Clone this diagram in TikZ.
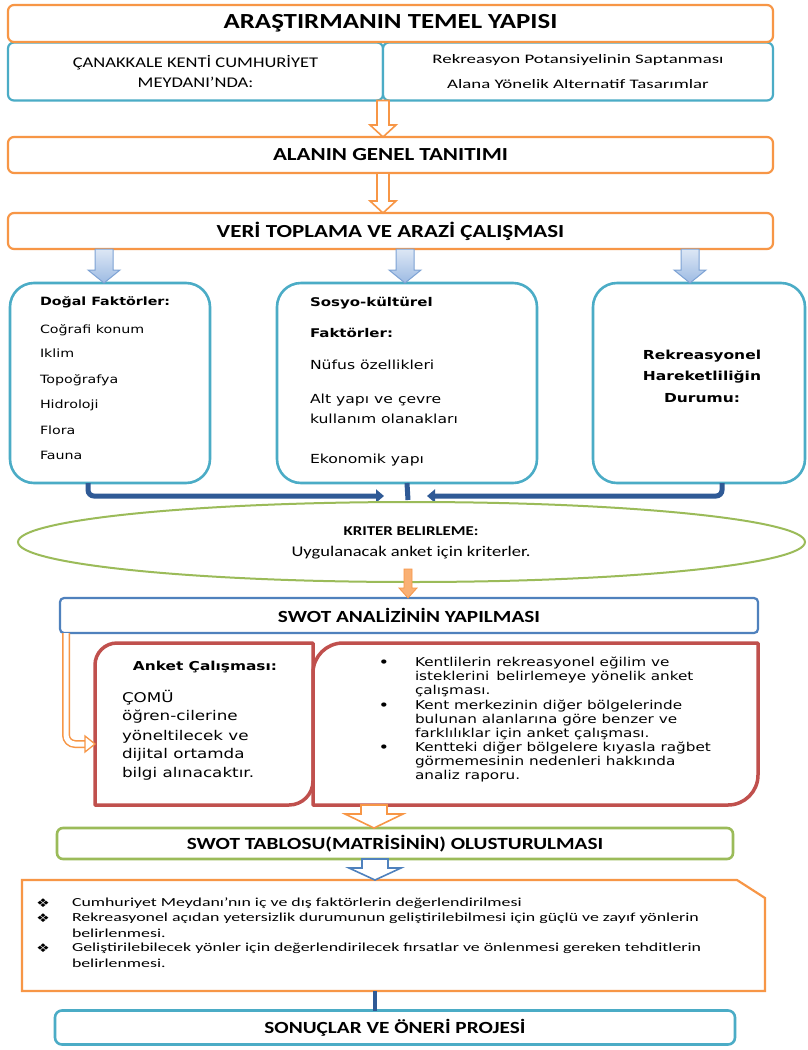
\documentclass[tikz,border=0pt]{standalone}
\usepackage{fontspec}
\setmainfont{Carlito}[FakeStretch=1.25]
\newfontfamily\cwide{Carlito}[FakeStretch=1.45]
\newfontfamily\vfont{DejaVu Sans}[FakeStretch=1.25]
\usetikzlibrary{arrows.meta,calc,shapes.geometric}
\definecolor{cOrange}{HTML}{F79646}
\definecolor{cTeal}{HTML}{4BACC6}
\definecolor{cBlue}{HTML}{4F81BD}
\definecolor{cRed}{HTML}{C0504D}
\definecolor{cGreen}{HTML}{9BBB59}
\definecolor{cDark}{HTML}{2F5A96}
\definecolor{cLight}{HTML}{9DBBE3}
\definecolor{cLightTop}{HTML}{DDE7F5}
\definecolor{cLightB}{HTML}{7DA2D4}
\definecolor{cSmallOr}{HTML}{F9B074}
% #1 start, #2 end, #3 half shaft, #4 half head, #5 head length, #6 style
\newcommand\blockarrow[6]{%
  \path[#6] let \p1=(#1), \p2=(#2) in
    (\x1-#3pt,\y1) -- (\x1-#3pt,\y2+#5pt) -- (\x1-#4pt,\y2+#5pt) -- (\x1,\y2)
    -- (\x1+#4pt,\y2+#5pt) -- (\x1+#3pt,\y2+#5pt) -- (\x1+#3pt,\y1) -- cycle;}
\begin{document}
\begin{tikzpicture}[x=1pt,y=-1pt,
  every node/.style={inner sep=0pt,outer sep=0pt},
  box/.style={draw,line width=2.2pt,fill=white,rounded corners=6pt},
  obox/.style={box,draw=cOrange},
  tbox/.style={box,draw=cTeal},
  tbig/.style={draw=cTeal,line width=2.6pt,fill=white,rounded corners=24pt},
  harrow/.style={draw=cOrange,line width=1.6pt,fill=white,line join=miter},
  blarrow/.style={draw=cBlue,line width=1.6pt,fill=white,line join=miter},
  barrow/.style={draw=cLightB,line width=1pt,top color=cLightTop,bottom color=cLight},
  sarrow/.style={draw=cOrange,line width=.8pt,fill=cSmallOr},
  conn/.style={draw=cDark,line width=5pt,rounded corners=6pt},
  redl/.style={draw=cRed,line width=3.5pt,fill=white,line join=round},
  ftxt/.style={font=\vfont\fontsize{11.4}{14}\selectfont,anchor=west},
  fhead/.style={font=\vfont\bfseries\fontsize{11.4}{14}\selectfont,anchor=west},
  stxt/.style={font=\vfont\fontsize{12.5}{14}\selectfont,anchor=west},
  shead/.style={font=\vfont\bfseries\fontsize{12}{14}\selectfont,anchor=west},
  rhead/.style={font=\vfont\bfseries\fontsize{12.4}{14}\selectfont},
  atxt/.style={font=\vfont\fontsize{13.4}{16}\selectfont,anchor=west},
  btxt/.style={font=\vfont\fontsize{12.2}{14}\selectfont,anchor=west},
  ltxt/.style={font=\cwide\fontsize{12.3}{15}\selectfont,anchor=west},
  lbul/.style={font=\vfont\fontsize{12}{14}\selectfont},
]
\fill[white] (0,0) rectangle (808,1050);
\useasboundingbox (0,0) rectangle (808,1050);

% top
\node[tbox,minimum width=375pt,minimum height=58pt,align=center,
      font=\fontsize{14.8}{20}\selectfont] (rowl) at (195.5,71.5)
      {ÇANAKKALE KENTİ CUMHURİYET\\MEYDANI’NDA:};
\node[tbox,minimum width=390pt,minimum height=58pt,align=center,
      font=\cwide\fontsize{13}{25}\selectfont] (rowr) at (578,71.5)
      {Rekreasyon Potansiyelinin Saptanması\\Alana Yönelik Alternatif Tasarımlar};
\node[obox,minimum width=765pt,minimum height=37pt,
      font=\bfseries\fontsize{21.5}{24}\selectfont] (title) at (390.5,23.5)
      {ARAŞTIRMANIN TEMEL YAPISI};

\node[obox,minimum width=765pt,minimum height=36pt,
      font=\bfseries\fontsize{18.4}{20}\selectfont] (alan) at (390.5,155)
      {ALANIN GENEL TANITIMI};
\node[obox,minimum width=765pt,minimum height=36pt,
      font=\bfseries\fontsize{18.4}{20}\selectfont] (veri) at (390.5,231)
      {VERİ TOPLAMA VE ARAZİ ÇALIŞMASI};

\blockarrow{rowl.south east}{alan.north}{6}{13}{12}{harrow}
\blockarrow{alan.south -| rowl.south east}{veri.north}{6}{13}{12}{harrow}

% three boxes
\node[tbig,minimum width=200pt,minimum height=200pt] (dogal) at (110,383) {};
\node[tbig,minimum width=260pt,minimum height=200pt] (sosyo) at (407,383) {};
\node[tbig,minimum width=212pt,minimum height=200pt] (rek) at (699,383) {};

\blockarrow{$(veri.south -| dogal.north)+(-6,0)$}{dogal.north}{9}{16}{13}{barrow}
\blockarrow{$(veri.south -| sosyo.north)+(-2,0)$}{sosyo.north}{9}{16}{13}{barrow}
\blockarrow{$(veri.south -| rek.north)+(-9,0)$}{rek.north}{9}{16}{13}{barrow}

\node[fhead] (d0) at (40,302) {Doğal Faktörler:};
\node[ftxt] (d1) at (40,330) {Coğrafi konum};
\node[ftxt] (d2) at (40,353) {Iklim};
\node[ftxt] (d3) at (40,380) {Topoğrafya};
\node[ftxt] (d4) at (40,405) {Hidroloji};
\node[ftxt] (d5) at (40,430) {Flora};
\node[ftxt] (d6) at (40,455) {Fauna};

\node[shead] (s0) at (310,303) {Sosyo-kültürel};
\node[shead] (s1) at (310,333) {Faktörler:};
\node[stxt] (s2) at (310,365) {Nüfus özellikleri};
\node[stxt] (s3) at (310,400) {Alt yapı ve çevre};
\node[stxt] (s4) at (310,419) {kullanım olanakları};
\node[stxt] (s5) at (310,460) {Ekonomik yapı};

\node[rhead] (r0) at (702,356) {Rekreasyonel};
\node[rhead] (r1) at (702,377) {Hareketliliğin};
\node[rhead] (r2) at (702,398) {Durumu:};

% connectors
\coordinate (jL) at (384,496);
\coordinate (jR) at (427,496);
\coordinate (jC) at (408,500);
\draw[conn,-{Triangle[length=8pt,width=13pt]}] ([xshift=-22pt]dogal.south) |- (jL);
\draw[conn,-{Triangle[length=8pt,width=13pt]}] ([xshift=23pt]rek.south) |- (jR);
\draw[cDark,line width=5pt] (sosyo.south) -- (jC);

% ellipse
\node[ellipse,draw=cGreen,line width=2pt,fill=white,minimum width=787pt,
      minimum height=80pt] (krit) at (411.5,542) {};
\node[font=\bfseries\fontsize{13.5}{16}\selectfont] (kritT) at (411,531) {KRITER BELIRLEME:};
\node[font=\fontsize{14.8}{18}\selectfont] (kritS) at (411,553) {Uygulanacak anket için kriterler.};

% swot
\node[box,draw=cBlue,rounded corners=4pt,minimum width=698pt,minimum height=35pt,
      font=\bfseries\fontsize{17}{20}\selectfont] (swot) at (409,615.5)
      {SWOT ANALİZİNİN YAPILMASI};
\blockarrow{$(krit.south)+(-3.5,-13)$}{swot.north}{4}{9}{10}{sarrow}

% anket + bullets
\node[minimum width=218pt,minimum height=162pt] (anket) at (204,724) {};
\node[minimum width=445pt,minimum height=162pt] (bul) at (535.5,724) {};
\draw[redl] (anket.south west) -- ([yshift=-22pt]anket.north west)
  arc[start angle=180,end angle=90,radius=22pt] -- (anket.north east)
  -- ([yshift=24pt]anket.south east) arc[start angle=0,end angle=-90,radius=24pt] -- cycle;
\draw[redl] (bul.south west) -- ([yshift=-30pt]bul.north west)
  arc[start angle=180,end angle=90,radius=30pt] -- (bul.north east)
  -- ([yshift=30pt]bul.south east) arc[start angle=0,end angle=-90,radius=30pt] -- cycle;

\coordinate (aTip) at (95,744);
\draw[cOrange,line width=1.5pt,double=white,double distance=5pt,rounded corners=9pt]
  ([xshift=6pt]swot.south west) |- ([xshift=-8pt]aTip);
\draw[harrow,line width=1.3pt] ($(aTip)+(-10,-8)$) -- (aTip) -- ($(aTip)+(-10,8)$) -- cycle;

\node[font=\vfont\bfseries\fontsize{12.3}{14}\selectfont] (a0) at (205,667) {Anket Çalışması:};
\node[atxt] (a1) at (122,698) {ÇOMÜ};
\node[atxt] (a2) at (122,717) {öğren-cilerine};
\node[atxt] (a3) at (122,737) {yöneltilecek ve};
\node[atxt] (a4) at (122,755) {dijital ortamda};
\node[atxt] (a5) at (122,774) {bilgi alınacaktır.};

\node[font=\vfont\bfseries\fontsize{12}{14}\selectfont] (bb1) at (384,663) {•};
\node[font=\vfont\bfseries\fontsize{12}{14}\selectfont] (bb2) at (384,706) {•};
\node[font=\vfont\bfseries\fontsize{12}{14}\selectfont] (bb3) at (384,748) {•};
\node[btxt] (b1) at (415,663) {Kentlilerin rekreasyonel eğilim ve};
\node[btxt] (b2) at (415,677) {isteklerini\, belirlemeye yönelik anket};
\node[btxt] (b3) at (415,691) {çalışması.};
\node[btxt] (b4) at (415,706) {Kent merkezinin diğer bölgelerinde};
\node[btxt] (b5) at (415,720) {bulunan alanlarına göre benzer ve};
\node[btxt] (b6) at (415,734) {farklılıklar için anket çalışması.};
\node[btxt] (b7) at (415,748) {Kentteki diğer bölgelere kıyasla rağbet};
\node[btxt] (b8) at (415,762) {görmemesinin nedenleri hakkında};
\node[btxt] (b9) at (415,776) {analiz raporu.};

% swot table
\node[box,draw=cGreen,line width=2.6pt,minimum width=676pt,minimum height=31pt,
      font=\bfseries\fontsize{17}{20}\selectfont] (swottab) at (395,843.5)
      {SWOT TABLOSU(MATRİSİNİN) OLUSTURULMASI};
\blockarrow{$(bul.south west)+(61,0)$}{swottab.north}{13}{29}{14}{harrow}

% list
\node[minimum width=743pt,minimum height=111pt] (list) at (393.5,935.5) {};
\draw[draw=cOrange,line width=2.2pt,fill=white] (list.south west) -- (list.north west)
  -- ([xshift=-28pt]list.north east) -- ([yshift=-18pt]list.north east)
  -- (list.south east) -- cycle;
\blockarrow{$(swottab.south)+(-20,0)$}{list.north}{13}{26}{12}{blarrow}

\node[lbul] (lb1) at (43,903) {❖};
\node[lbul] (lb2) at (43,918) {❖};
\node[lbul] (lb3) at (43,948) {❖};
\node[ltxt] (l1) at (72,903) {Cumhuriyet Meydanı’nın iç ve dış faktörlerin değerlendirilmesi};
\node[ltxt] (l2) at (72,918) {Rekreasyonel açıdan yetersizlik durumunun geliştirilebilmesi için güçlü ve zayıf yönlerin};
\node[ltxt] (l3) at (72,933) {belirlenmesi.};
\node[ltxt] (l4) at (72,948) {Geliştirilebilecek yönler için değerlendirilecek fırsatlar ve önlenmesi gereken tehditlerin};
\node[ltxt] (l5) at (72,963) {belirlenmesi.};

% result
\node[tbox,line width=2.6pt,rounded corners=7pt,minimum width=680pt,minimum height=34pt,
      font=\bfseries\fontsize{17}{20}\selectfont] (sonuc) at (395,1027.5)
      {SONUÇLAR VE ÖNERİ PROJESİ};
\coordinate (cX) at (375,0);
\draw[cDark,line width=4.5pt] (list.south -| cX) -- (sonuc.north -| cX);
\end{tikzpicture}
\end{document}
